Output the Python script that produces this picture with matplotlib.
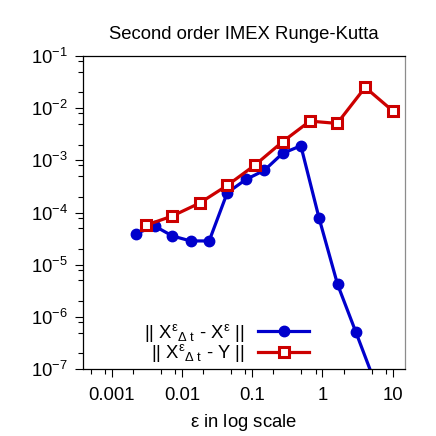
import numpy as np
import matplotlib
matplotlib.use('Agg')
import matplotlib.pyplot as plt
from matplotlib.ticker import LogLocator, NullFormatter, LogFormatterSciNotation

plt.rcParams['font.family'] = ['Liberation Sans', 'DejaVu Sans']
plt.rcParams['mathtext.fontset'] = 'custom'
plt.rcParams['mathtext.rm'] = 'Liberation Sans'
plt.rcParams['mathtext.it'] = 'Liberation Sans'
plt.rcParams['mathtext.bf'] = 'Liberation Sans:bold'
plt.rcParams['mathtext.default'] = 'regular'

# values
eps_blue = [0.00220, 0.00410, 0.00723, 0.0132, 0.0243, 0.0439, 0.0811,
            0.148, 0.270, 0.492, 0.897, 1.64, 2.99, 5.47]
err_blue = [3.95e-5, 5.46e-5, 3.56e-5, 2.85e-5, 2.85e-5, 2.38e-4, 4.3e-4,
            6.4e-4, 1.36e-3, 1.90e-3, 7.7e-5, 4.2e-6, 5.1e-7, 6.0e-8]

eps_red = [0.00305, 0.00716, 0.0177, 0.0439, 0.109, 0.270, 0.662,
           1.62, 4.06, 10.0]
err_red = [5.7e-5, 8.5e-5, 1.51e-4, 3.3e-4, 8.1e-4, 2.27e-3, 5.65e-3,
           5.1e-3, 0.0251, 8.9e-3]

label_blue = r'|| X$^{\varepsilon}{}_{\Delta\ t}$ - X$^{\varepsilon}$ ||'
label_red = r'|| X$^{\varepsilon}{}_{\Delta\ t}$ - Y ||'

fs = 13.3
fig = plt.figure(figsize=(4.36, 4.36), dpi=100)
ax = fig.add_axes([83/436, 67/436, 322/436, 313/436])

ax.plot(eps_blue, err_blue, '-o', color='#0000cc', lw=2.3, ms=7.5,
        mfc='#0000cc', mec='#0000cc', label=label_blue)
ax.plot(eps_red, err_red, '-s', color='#cc0000', lw=2.3, ms=6.5,
        mfc='white', mec='#cc0000', mew=2.2, label=label_red)

ax.set_xscale('log')
ax.set_yscale('log')
ax.set_xlim(3.87e-4, 15)
ax.set_ylim(1e-7, 1e-1)

ax.xaxis.set_minor_locator(LogLocator(base=10, subs=(2, 5, 8), numticks=10))
ax.yaxis.set_major_locator(LogLocator(base=10, numticks=10))
ax.yaxis.set_minor_locator(LogLocator(base=10, subs=(2, 5, 8), numticks=10))
ax.xaxis.set_minor_formatter(NullFormatter())
ax.yaxis.set_minor_formatter(NullFormatter())
ax.set_xticks([0.001, 0.01, 0.1, 1, 10])
ax.set_xticklabels(['0.001', '0.01', '0.1', '1', '10'])
ax.yaxis.set_major_formatter(LogFormatterSciNotation())

ax.tick_params(which='both', direction='out', top=False, right=False,
               labelsize=fs, color='black')
ax.tick_params(which='major', length=6, width=0.8)
ax.tick_params(which='minor', length=3.5, width=0.8)
ax.tick_params(axis='x', pad=7)
ax.tick_params(axis='y', pad=5)

ax.spines['right'].set_color('0.55')
for s in ['left', 'top', 'bottom']:
    ax.spines[s].set_color('black')
for s in ax.spines.values():
    s.set_linewidth(0.9)

ax.set_title('Second order IMEX Runge-Kutta', fontsize=fs, pad=12)
ax.set_xlabel(r'$\varepsilon$ in log scale', fontsize=fs, labelpad=6)

ax.legend(loc='center right', bbox_to_anchor=(0.703, 0.083), frameon=False,
          markerfirst=False, fontsize=fs, handlelength=2.8, handletextpad=0.7,
          borderpad=0, borderaxespad=0, labelspacing=-0.08)

fig.savefig('out.png', dpi=100)
